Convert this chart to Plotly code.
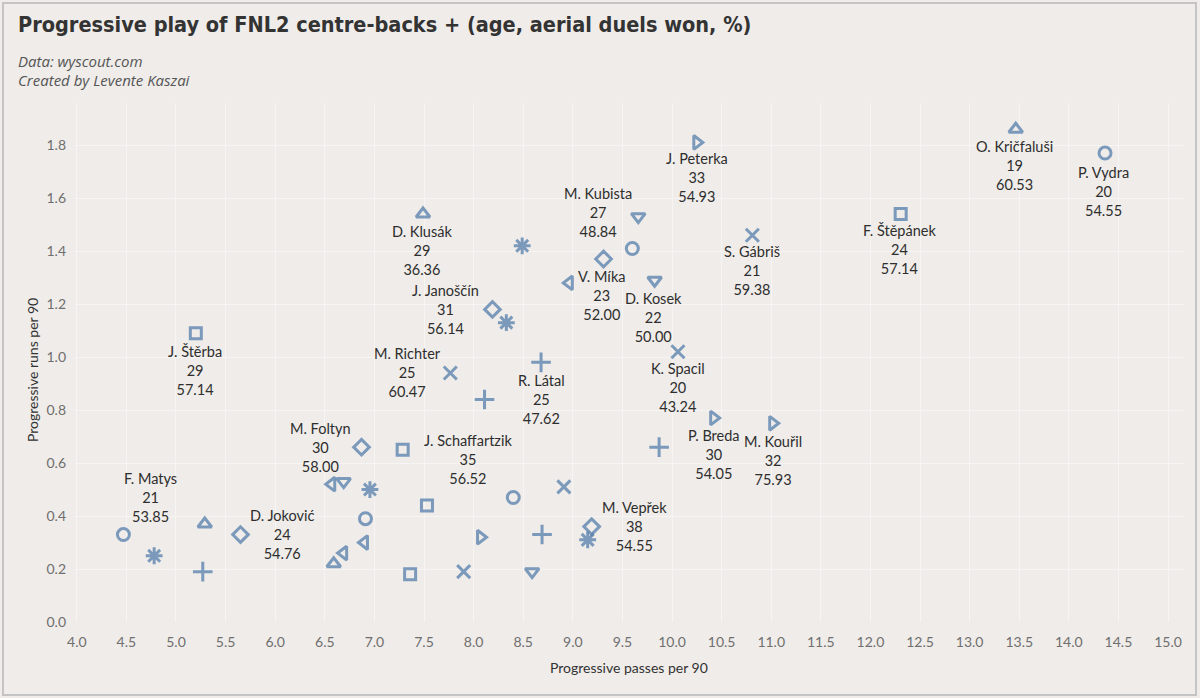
import plotly.graph_objects as go

# ---------------- data ----------------
prog_passes = [4.47, 4.78, 5.29, 5.27, 5.20, 5.65, 6.59, 6.69, 6.57, 6.69, 6.87, 6.91, 6.90, 6.955,
               7.285, 7.36, 7.53, 7.49, 7.765, 7.90, 8.07, 8.11, 8.19, 8.33, 8.40, 8.49, 8.59, 8.68,
               8.69, 8.91, 8.965, 9.15, 9.19, 9.31, 9.60, 9.66, 9.825, 9.87, 10.06, 10.25, 10.42,
               10.81, 11.015, 12.305, 13.465, 14.365]
prog_runs = [0.33, 0.25, 0.37, 0.19, 1.09, 0.33, 0.22, 0.26, 0.52, 0.53, 0.66, 0.39, 0.30, 0.50,
             0.65, 0.18, 0.44, 1.54, 0.94, 0.19, 0.32, 0.84, 1.18, 1.13, 0.47, 1.42, 0.19, 0.98,
             0.33, 0.51, 1.28, 0.31, 0.36, 1.37, 1.41, 1.53, 1.29, 0.66, 1.02, 1.81, 0.77,
             1.46, 0.75, 1.54, 1.86, 1.77]
shape_group = ["circle", "asterisk", "tri_up", "plus", "square", "diamond", "tri_up", "tri_left",
               "tri_left", "tri_down", "diamond", "circle", "tri_left", "asterisk",
               "square", "square", "square", "tri_up", "x", "x", "tri_right", "plus", "diamond",
               "asterisk", "circle", "asterisk", "tri_down", "plus",
               "plus", "x", "tri_left", "asterisk", "diamond", "diamond", "circle", "tri_down",
               "tri_down", "plus", "x", "tri_right", "tri_right",
               "x", "tri_right", "square", "tri_up", "circle"]
players = ["F. Matys", None, None, None, "J. Štěrba", "D. Joković", None, None, None, None,
           "M. Foltyn", None, None, None,
           "J. Schaffartzik", None, None, "D. Klusák", "M. Richter", None, None, None, "J. Janoščín",
           None, None, None, None, "R. Látal",
           None, None, "V. Míka", None, "M. Vepřek", None, None, "M. Kubista",
           "D. Kosek", None, "K. Spacil", "J. Peterka", "P. Breda",
           "S. Gábriš", "M. Kouřil", "F. Štěpánek", "O. Kričfaluši", "P. Vydra"]
ages = [21, None, None, None, 29, 24, None, None, None, None, 30, None, None, None,
        35, None, None, 29, 25, None, None, None, 31, None, None, None, None, 25,
        None, None, 23, None, 38, None, None, 27, 22, None, 20, 33, 30,
        21, 32, 24, 19, 20]
aerial_won = [53.85, None, None, None, 57.14, 54.76, None, None, None, None, 58.00, None, None, None,
              56.52, None, None, 36.36, 60.47, None, None, None, 56.14, None, None, None, None, 47.62,
              None, None, 52.00, None, 54.55, None, None, 48.84, 50.00, None, 43.24, 54.93, 54.05,
              59.38, 75.93, 57.14, 60.53, 54.55]

x_ticks = [4.0 + 0.5 * i for i in range(23)]
y_ticks = [0.2 * i for i in range(10)]

# ---------------- styles / layout positions ----------------
W, H = 1200, 698
ML, MR, MT, MB = 75, 17, 103, 76
BG = "#EFECE9"
BLUE = "#4A76A6"
SYMBOLS = {"circle": "circle-open", "square": "square-open", "tri_up": "triangle-up-open",
           "tri_down": "triangle-down-open", "tri_left": "triangle-left-open",
           "tri_right": "triangle-right-open", "diamond": "diamond-open",
           "x": "x-thin-open", "plus": "cross-thin-open", "asterisk": "asterisk-open"}
SIZES = {"circle": 12, "square": 11, "tri_up": 12, "tri_down": 12, "tri_left": 12,
         "tri_right": 12, "diamond": 12, "x": 13, "plus": 14, "asterisk": 14}
# label offsets (pixels): label centre relative to marker
LABEL_OFFSETS = {"F. Matys": (27, 37), "J. Štěrba": (-1, -37), "D. Joković": (42, 0),
                 "M. Foltyn": (-41, 0), "J. Schaffartzik": (65, -10), "D. Klusák": (-1, -36),
                 "M. Richter": (-43, 0), "R. Látal": (0, -37), "J. Janoščín": (-47, 0),
                 "J. Peterka": (0, -35), "M. Kubista": (-40, 4), "V. Míka": (33, -13),
                 "D. Kosek": (-1, -37), "S. Gábriš": (0, -35), "K. Spacil": (0, -36),
                 "P. Breda": (0, -36), "M. Kouřil": (0, -37), "M. Vepřek": (43, 0),
                 "O. Kričfaluši": (-1, -36), "P. Vydra": (-2, -38), "F. Štěpánek": (-1, -35)}

PW = W - ML - MR
PH = H - MT - MB
LABEL_FONT = "Lato, Open Sans, sans-serif"


def px_to_paper(px, py):
    return (px - ML) / PW, (H - MB - py) / PH


fig = go.Figure()
fig.add_trace(go.Scatter(
    x=prog_passes, y=prog_runs, mode="markers",
    marker=dict(symbol=[SYMBOLS[s] for s in shape_group],
                size=[SIZES[s] for s in shape_group],
                color=BLUE, line=dict(color=BLUE, width=3)),
    text=[p or "" for p in players], hoverinfo="x+y+text", showlegend=False,
))

annotations = []
for xv, yv, name, age, aer in zip(prog_passes, prog_runs, players, ages, aerial_won):
    if name is None:
        continue
    dx, dy = LABEL_OFFSETS[name]
    annotations.append(dict(
        x=xv, y=yv, xref="x", yref="y", showarrow=False,
        text=f"{name}<br>{age}<br>{aer:.2f}", align="center",
        xshift=dx, yshift=dy, xanchor="center", yanchor="middle",
        font=dict(family=LABEL_FONT, size=14.5, color="#2E2E2E"),
    ))

tx, ty = px_to_paper(16, 25)
annotations.append(dict(x=tx, y=ty, xref="paper", yref="paper", showarrow=False,
                        xanchor="left", yanchor="middle",
                        text="<b>Progressive play of FNL2 centre-backs + (age, aerial duels won, %)</b>",
                        font=dict(family="Liberation Sans Narrow, DejaVu Sans Condensed, sans-serif",
                                  size=21.5, color="#333333")))
for txt, yy in [("Data: wyscout.com", 61), ("Created by Levente Kaszai", 80)]:
    sx, sy = px_to_paper(16, yy)
    annotations.append(dict(x=sx, y=sy, xref="paper", yref="paper", showarrow=False,
                            xanchor="left", yanchor="middle", text=f"<i>{txt}</i>",
                            font=dict(family="Open Sans, sans-serif", size=15, color="#555555")))
ax_x, ax_y = px_to_paper(629, 667)
annotations.append(dict(x=ax_x, y=ax_y, xref="paper", yref="paper", showarrow=False,
                        xanchor="center", yanchor="middle", text="Progressive passes per 90",
                        font=dict(family=LABEL_FONT, size=14, color="#333333")))
ay_x, ay_y = px_to_paper(32, 370)
annotations.append(dict(x=ay_x, y=ay_y, xref="paper", yref="paper", showarrow=False,
                        xanchor="center", yanchor="middle", textangle=-90,
                        text="Progressive runs per 90",
                        font=dict(family=LABEL_FONT, size=14, color="#333333")))

bx0, by0 = px_to_paper(3, 695)
bx1, by1 = px_to_paper(1196, 3)

fig.update_layout(
    width=W, height=H, margin=dict(l=ML, r=MR, t=MT, b=MB, pad=0),
    paper_bgcolor=BG, plot_bgcolor=BG,
    annotations=annotations,
    shapes=[dict(type="rect", xref="paper", yref="paper", x0=bx0, y0=by0, x1=bx1, y1=by1,
                 line=dict(color="#C4C4C4", width=2), fillcolor="rgba(0,0,0,0)", layer="below")],
    xaxis=dict(range=[3.982, 15.151], tickvals=x_ticks, ticktext=[f"{v:.1f}" for v in x_ticks],
               showgrid=True, gridcolor="#F7F5F3", gridwidth=1, zeroline=False,
               showline=False, ticks="", ticklabelstandoff=10,
               tickfont=dict(family=LABEL_FONT, size=14, color="#6F6F6F")),
    yaxis=dict(range=[0, 1.959], tickvals=y_ticks, ticktext=[f"{v:.1f}" for v in y_ticks],
               showgrid=True, gridcolor="#F7F5F3", gridwidth=1, zeroline=False,
               showline=False, ticks="", ticklabelstandoff=8,
               tickfont=dict(family=LABEL_FONT, size=14, color="#6F6F6F")),
)

fig.write_html("out.html")
